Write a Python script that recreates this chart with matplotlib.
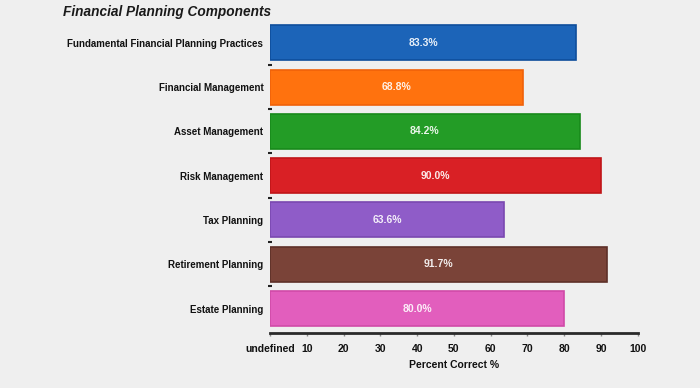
import matplotlib
matplotlib.use("Agg")
import matplotlib.pyplot as plt
import numpy as np

categories = ["Fundamental Financial Planning Practices", "Financial Management",
              "Asset Management", "Risk Management", "Tax Planning",
              "Retirement Planning", "Estate Planning"]
values = [83.3, 68.8, 84.2, 90.0, 63.6, 91.7, 80.0]
colors = ["#1c64b8", "#ff720e", "#239c26", "#d92025", "#8f5cc8", "#7a4338", "#e25ebd"]
edge_colors = ["#0e4e9c", "#f0620a", "#178a1a", "#c01518", "#7a48b0", "#5e3028", "#d04aa8"]
xticks = [0, 10, 20, 30, 40, 50, 60, 70, 80, 90, 100]
xtick_labels = ["undefined", "10", "20", "30", "40", "50", "60", "70", "80", "90", "100"]
title = "Financial Planning Components"
xlabel = "Percent Correct %"

plt.rcParams['font.family'] = ['Liberation Sans', 'DejaVu Sans']
bg = "#efefef"
fig = plt.figure(figsize=(7, 3.88), dpi=100, facecolor=bg)
ax = fig.add_axes([0.386, 0.142, 0.525, 0.805])
ax.set_facecolor(bg)

y = np.arange(len(categories))
bars = ax.barh(y, values, height=0.79, color=colors, edgecolor=edge_colors, linewidth=1.2)
for yi, v in zip(y, values):
    ax.text(v / 2, yi, f"{v:.1f}%", ha="center", va="center", color="white",
            fontsize=7.5, fontweight="bold", alpha=0.9)

ax.set_ylim(len(categories) - 1 + 0.55, -0.5)
ax.set_xlim(0, 100)
ax.set_yticks(y)
ax.set_yticklabels(categories, fontsize=7, fontweight="bold", color="#111111")
ax.set_yticks(np.arange(len(categories) - 1) + 0.5, minor=True)
ax.tick_params(axis="y", which="major", length=0, pad=5)
ax.tick_params(axis="y", which="minor", length=3, width=1.5, color="#222222", direction="inout")
ax.set_xticks(xticks)
ax.set_xticklabels(xtick_labels, fontsize=7.5, fontweight="bold", color="#111111")
ax.tick_params(axis="x", length=2, width=1, color="#888888", pad=6)
for s in ["top", "right", "left"]:
    ax.spines[s].set_visible(False)
ax.spines["bottom"].set_linewidth(2)
ax.spines["bottom"].set_color("#2a2a2a")
ax.set_xlabel(xlabel, fontsize=7.5, fontweight="bold", color="#111111", labelpad=4)

fig.text(63 / 700, 1 - 12 / 388, title, ha="left", va="center", fontsize=9.8,
         fontweight="bold", fontstyle="italic", color="#1a1a1a")

fig.savefig("out.png", dpi=100, facecolor=bg)
